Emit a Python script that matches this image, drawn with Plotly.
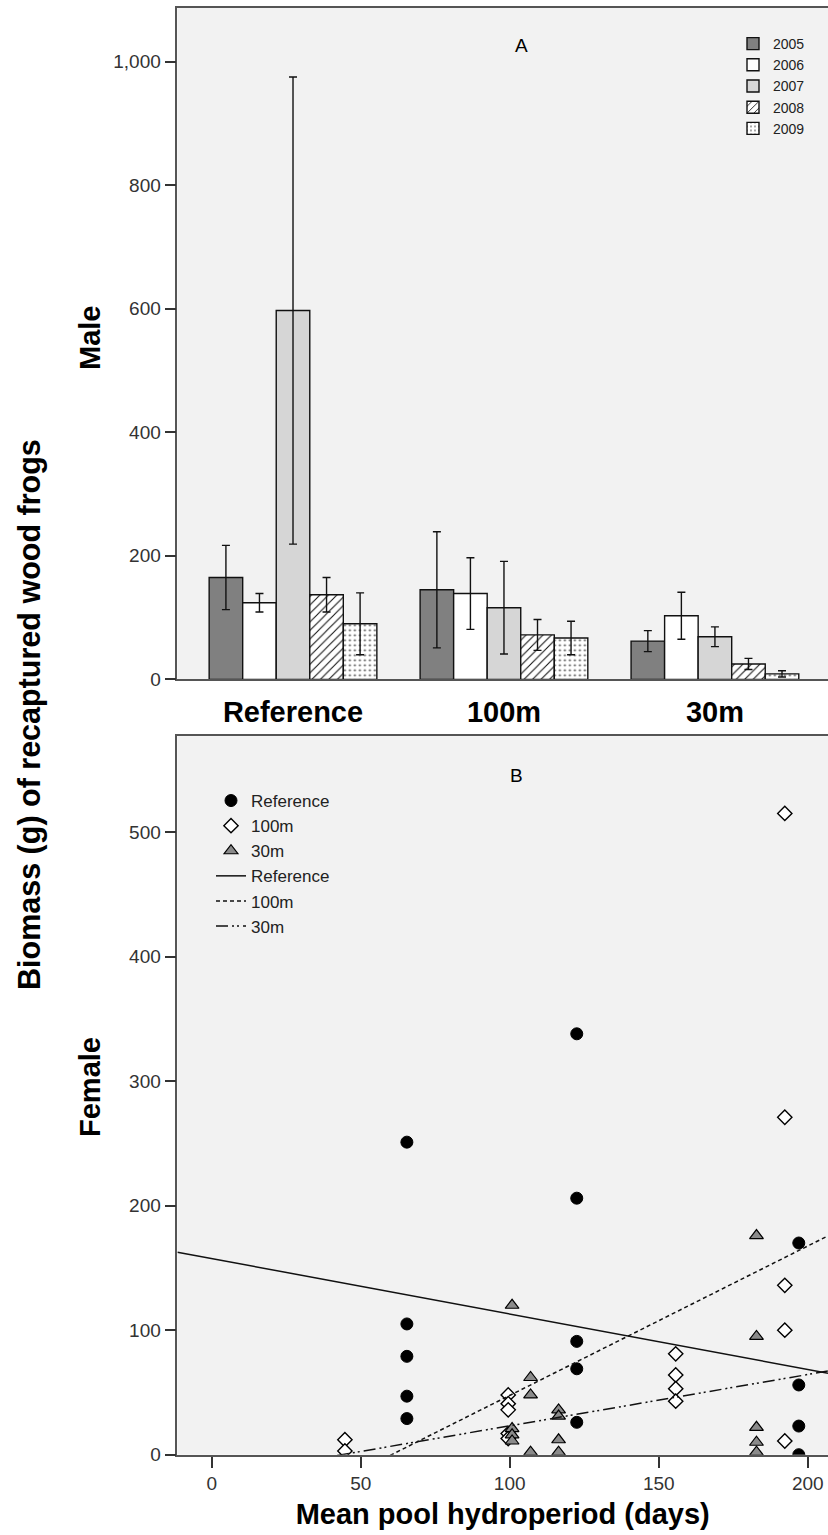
import numpy as np
import plotly.graph_objects as go

# ---- Panel A: male biomass by treatment and year (mean +/- error) ----
sites = ["Reference", "100m", "30m"]
years = ["2005", "2006", "2007", "2008", "2009"]
male_mean = {
    "2005": [165, 145, 62],
    "2006": [124, 139, 103],
    "2007": [597, 116, 69],
    "2008": [137, 72, 25],
    "2009": [90, 67, 9],
}
male_err = {
    "2005": [52, 94, 17],
    "2006": [15, 58, 38],
    "2007": [378, 75, 16],
    "2008": [28, 25, 9],
    "2009": [50, 27, 5],
}

# ---- Panel B: female biomass vs mean pool hydroperiod ----
ref_x = [65.5] * 5 + [122.5] * 5 + [197] * 4
ref_y = [251, 105, 79, 47, 29, 338, 206, 91, 69, 26, 170, 56, 23, 0]
m100_x = [44.7] * 2 + [99.5] * 5 + [155.7] * 4 + [192.3] * 5
m100_y = [12, 3, 48, 41, 36, 17, 13, 81, 64, 53, 43, 515, 271, 136, 100, 11]
m30_x = [100.8] * 4 + [107] * 3 + [116.4] * 4 + [182.8] * 5
m30_y = [120, 21, 16, 11, 62, 48, 2, 36, 31, 12, 2, 176, 95, 22, 10, 2]

# linear fit lines per treatment: (intercept, slope)
fit_ref = (157.5, -0.445)
fit_100 = (-72.4, 1.2)
fit_30 = (-18.0, 0.412)
fit_span = np.array([-11.5, 206.8])

W, H = 828, 1535
FONT = "Liberation Sans, Arial, sans-serif"


def px_x(p):
    return p / W


def px_y(p):
    return 1 - p / H


fills = {
    "2005": dict(color="#808080"),
    "2006": dict(color="#ffffff"),
    "2007": dict(color="#d6d6d6"),
    "2008": dict(color="#ffffff",
                 pattern=dict(shape="/", fgcolor="#111111", bgcolor="#ffffff",
                              size=6, solidity=0.18, fillmode="replace")),
    "2009": dict(color="#ffffff",
                 pattern=dict(shape=".", fgcolor="#555555", bgcolor="#ffffff",
                              size=5, solidity=0.15, fillmode="replace")),
}

fig = go.Figure()

for yr in years:
    mk = dict(fills[yr])
    mk["line"] = dict(color="#111111", width=1.4)
    fig.add_trace(go.Bar(
        x=sites, y=male_mean[yr], name=yr,
        marker=mk,
        error_y=dict(type="data", array=male_err[yr], color="#111111",
                     thickness=1.4, width=4),
        xaxis="x", yaxis="y", legend="legend",
    ))

fig.add_trace(go.Scatter(
    x=ref_x, y=ref_y, mode="markers", name="Reference",
    marker=dict(symbol="circle", size=12, color="#000000",
                line=dict(color="#000000", width=1)),
    xaxis="x2", yaxis="y2", legend="legend2",
))
fig.add_trace(go.Scatter(
    x=m100_x, y=m100_y, mode="markers", name="100m",
    marker=dict(symbol="diamond", size=11, color="#ffffff",
                line=dict(color="#000000", width=1.4)),
    xaxis="x2", yaxis="y2", legend="legend2",
))
fig.add_trace(go.Scatter(
    x=m30_x, y=m30_y, mode="markers", name="30m",
    marker=dict(symbol="triangle-up", size=12, color="#8a8a8a",
                line=dict(color="#000000", width=1.2)),
    xaxis="x2", yaxis="y2", legend="legend2",
))

for (b0, b1), nm, dash in [
    (fit_ref, "Reference", "solid"),
    (fit_100, "100m", "4px,3px"),
    (fit_30, "30m", "12px,4px,2px,3px,2px,4px"),
]:
    fig.add_trace(go.Scatter(
        x=fit_span, y=b0 + b1 * fit_span, mode="lines", name=nm,
        line=dict(color="#111111", width=1.5, dash=dash),
        xaxis="x2", yaxis="y2", legend="legend2",
    ))

axis_line = dict(showline=True, linecolor="#555555", linewidth=1.6,
                 showgrid=False, zeroline=False)
tick_font = dict(family=FONT, size=19, color="#333333")

fig.update_layout(
    width=W, height=H,
    margin=dict(l=0, r=0, t=0, b=0),
    paper_bgcolor="#ffffff",
    plot_bgcolor="#f2f2f2",
    font=dict(family=FONT, color="#111111"),
    barmode="group", bargap=0.205, bargroupgap=0,
    xaxis=dict(domain=[px_x(177.4), 1.0], anchor="y", type="category",
               range=[-0.548, 2.536], ticks="", mirror=True,
               tickfont=dict(family=FONT, size=29, color="#000000", weight="bold"),
               ticklabelstandoff=6, automargin=False, **axis_line),
    yaxis=dict(domain=[px_y(679.4), px_y(7.8)], anchor="x",
               range=[0, 1087], tickvals=[0, 200, 400, 600, 800, 1000],
               tickformat=",d", ticks="outside", ticklen=11, tickwidth=1.5,
               tickcolor="#333333", tickfont=tick_font, automargin=False,
               **axis_line),
    xaxis2=dict(domain=[px_x(177.4), 1.0], anchor="y2",
                range=[-11.5, 206.8], tickvals=[0, 50, 100, 150, 200],
                ticks="outside", ticklen=11, tickwidth=1.5, tickcolor="#333333",
                tickfont=tick_font, mirror=True, automargin=False,
                title=dict(text="Mean pool hydroperiod (days)", standoff=10,
                           font=dict(family=FONT, size=29, color="#000000",
                                     weight="bold")),
                **axis_line),
    yaxis2=dict(domain=[px_y(1454.7), px_y(736.2)], anchor="x2",
                range=[0, 577], tickvals=[0, 100, 200, 300, 400, 500],
                ticks="outside", ticklen=11, tickwidth=1.5, tickcolor="#333333",
                tickfont=tick_font, automargin=False, **axis_line),
    legend=dict(x=px_x(733), y=px_y(28), xanchor="left", yanchor="top",
                bgcolor="rgba(0,0,0,0)", borderwidth=0,
                font=dict(family=FONT, size=14, color="#222222"),
                tracegroupgap=0),
    legend2=dict(x=px_x(211), y=px_y(783), xanchor="left", yanchor="top",
                 bgcolor="rgba(0,0,0,0)", borderwidth=0,
                 font=dict(family=FONT, size=17, color="#222222"),
                 tracegroupgap=0),
    showlegend=True,
)

bold_lbl = dict(family=FONT, size=29, color="#000000", weight="bold")


def label(text, x, y, font, angle=0):
    fig.add_annotation(text=text, textangle=angle, x=px_x(x), y=px_y(y),
                       xref="paper", yref="paper", xanchor="center",
                       yanchor="middle", showarrow=False, font=font)


label("Biomass (g) of recaptured wood frogs", 29, 715,
      dict(family=FONT, size=30.5, color="#000000", weight="bold"), -90)
label("Male", 90, 338, bold_lbl, -90)
label("Female", 90, 1087, bold_lbl, -90)
label("A", 521.6, 46, dict(family=FONT, size=19, color="#000000"))
label("B", 516.4, 775, dict(family=FONT, size=19, color="#000000"))

fig.write_html("out.html")
